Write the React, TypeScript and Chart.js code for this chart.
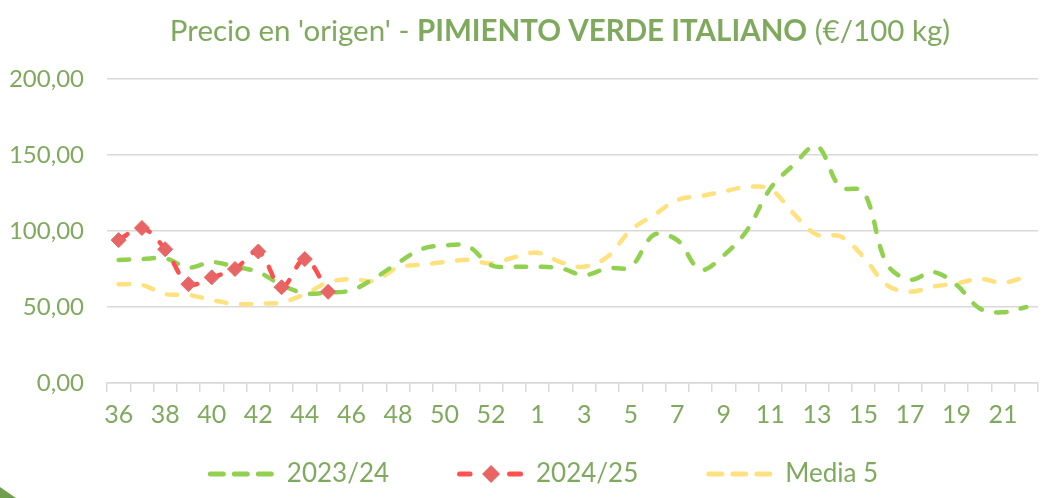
import React, { useEffect, useRef } from 'react';
import { Chart, registerables } from 'chart.js';

Chart.register(...registerables);

const weeks = [
  '36', '37', '38', '39', '40', '41', '42', '43', '44', '45', '46', '47', '48', '49', '50', '51', '52', '53',
  '1', '2', '3', '4', '5', '6', '7', '8', '9', '10', '11', '12', '13', '14', '15', '16', '17', '18', '19', '20', '21', '22',
];

const season2324 = [
  81, 81.5, 82, 76, 79.5, 76.5, 73, 64.5, 59, 59.5, 61, 69, 79, 88, 90.5, 90, 77.5, 76.5,
  76.5, 75.5, 71, 75.5, 76.5, 97.5, 94, 74.5, 84, 100.5, 128, 143.5, 156, 129, 126, 78.5, 68, 73, 64.5, 49, 46.5, 50,
];

const season2425 = [
  94, 102, 88, 65, 69.5, 75, 86.5, 63, 81.5, 60, null, null, null, null, null, null, null, null,
  null, null, null, null, null, null, null, null, null, null, null, null, null, null, null, null, null, null, null, null, null, null,
];

const media5 = [
  65, 64.5, 58.5, 58, 54.6, 52, 52.2, 53, 58.5, 66.2, 68.4, 67.3, 76, 77.8, 79.6, 81, 78.7, 82.7,
  85.7, 79.4, 76.5, 83, 100.6, 110.5, 120.4, 123, 126, 129, 127.5, 111.5, 97.5, 96.5, 83, 64.5, 60, 63.5, 65.5, 68.5, 66, 70,
];

const seriesNames = ['2023/24', '2024/25', 'Media 5'];
const yMin = 0;
const yMax = 200;
const yStep = 50;

const TEXT = '#7FAA5E';
const FONT = 'Lato, "Liberation Sans", sans-serif';
const GREEN = '#92D050';
const RED = '#FF5050';
const RED_MARK = '#E86565';
const YELLOW = '#FFE27F';
const GRID = '#D9D9D9';

const decorPlugin = {
  id: 'decor',
  afterDraw(chart: any) {
    const ctx = chart.ctx as CanvasRenderingContext2D;
    ctx.save();

    // Title (mixed weights)
    const parts = [
      { t: "Precio en 'origen' - ", b: false },
      { t: 'PIMIENTO VERDE ITALIANO', b: true },
      { t: ' (€/100 kg)', b: false },
    ];
    const tSize = 29.5;
    let total = 0;
    const widths: number[] = [];
    for (const p of parts) {
      ctx.font = `${p.b ? 'bold ' : ''}${tSize}px ${FONT}`;
      const w = ctx.measureText(p.t).width;
      widths.push(w);
      total += w;
    }
    let x = 560 - total / 2;
    ctx.fillStyle = TEXT;
    ctx.textBaseline = 'alphabetic';
    ctx.textAlign = 'left';
    parts.forEach((p, i) => {
      ctx.font = `${p.b ? 'bold ' : ''}${tSize}px ${FONT}`;
      ctx.fillText(p.t, x, 41);
      x += widths[i];
    });

    // Legend
    const lSize = 26;
    ctx.font = `${lSize}px ${FONT}`;
    const sampleW = 66;
    const gapST = 13;
    const gapItems = 68;
    const colors = [GREEN, RED, YELLOW];
    const tw = seriesNames.map((n) => ctx.measureText(n).width);
    const legW = tw.reduce((a, w) => a + sampleW + gapST + w, 0) + gapItems * (seriesNames.length - 1);
    let lx = 543 - legW / 2;
    const ly = 474;
    ctx.lineCap = 'round';
    ctx.lineWidth = 5;
    seriesNames.forEach((name, i) => {
      ctx.strokeStyle = colors[i];
      ctx.setLineDash([]);
      if (i === 1) {
        const segs = [[2.5, 13], [52.5, 63.5]];
        for (const [a, b] of segs) {
          ctx.beginPath();
          ctx.moveTo(lx + a, ly);
          ctx.lineTo(lx + b, ly);
          ctx.stroke();
        }
        const cx = lx + 34;
        ctx.fillStyle = RED_MARK;
        ctx.beginPath();
        ctx.moveTo(cx, ly - 9);
        ctx.lineTo(cx + 9, ly);
        ctx.lineTo(cx, ly + 9);
        ctx.lineTo(cx - 9, ly);
        ctx.closePath();
        ctx.fill();
      } else {
        for (let k = 0; k < 3; k++) {
          const a = lx + k * 24 + 2.5;
          ctx.beginPath();
          ctx.moveTo(a, ly);
          ctx.lineTo(a + 13, ly);
          ctx.stroke();
        }
      }
      ctx.fillStyle = TEXT;
      ctx.textBaseline = 'middle';
      ctx.font = `${lSize}px ${FONT}`;
      ctx.fillText(name, lx + sampleW + gapST, ly);
      lx += sampleW + gapST + tw[i] + gapItems;
    });

    // corner decoration
    ctx.fillStyle = '#6F9F4F';
    ctx.beginPath();
    ctx.moveTo(0, 487);
    ctx.lineTo(16, 498);
    ctx.lineTo(0, 498);
    ctx.closePath();
    ctx.fill();

    ctx.restore();
  },
};

export default function App() {
  const ref = useRef<HTMLCanvasElement | null>(null);

  useEffect(() => {
    document.body.style.margin = '0';
    const canvas = ref.current;
    if (!canvas) return;
    const lineBase = {
      fill: false,
      borderWidth: 4.5,
      borderDash: [10.5, 14.5],
      borderCapStyle: 'round' as const,
      borderJoinStyle: 'round' as const,
      tension: 0.35,
      pointRadius: 0,
      pointHoverRadius: 0,
      spanGaps: false,
    };
    const chart = new Chart(canvas, {
      type: 'line',
      data: {
        labels: weeks,
        datasets: [
          { ...lineBase, label: seriesNames[0], data: season2324, borderColor: GREEN, backgroundColor: GREEN, order: 1 },
          {
            ...lineBase,
            label: seriesNames[1],
            data: season2425,
            borderColor: RED,
            backgroundColor: RED_MARK,
            pointRadius: 7.5,
            pointStyle: 'rectRot',
            pointBackgroundColor: RED_MARK,
            pointBorderColor: RED_MARK,
            pointBorderWidth: 1,
            order: 0,
          },
          { ...lineBase, label: seriesNames[2], data: media5, borderColor: YELLOW, backgroundColor: YELLOW, order: 2 },
        ],
      },
      options: {
        responsive: false,
        animation: false,
        devicePixelRatio: 1,
        layout: { padding: { top: 79, right: 12, bottom: 60, left: 0 } },
        plugins: {
          legend: { display: false },
          title: { display: false },
          tooltip: { enabled: false },
        },
        scales: {
          x: {
            type: 'category',
            offset: true,
            grid: {
              display: true,
              drawOnChartArea: false,
              drawTicks: true,
              tickLength: 9,
              color: GRID,
              lineWidth: 1.5,
              offset: true,
            },
            border: { display: true, color: GRID, width: 1.5 },
            ticks: {
              autoSkip: false,
              maxRotation: 0,
              minRotation: 0,
              padding: 8,
              color: TEXT,
              font: { family: FONT, size: 25 },
              callback: function (this: any, value: any, index: number) {
                return index % 2 === 0 ? this.getLabelForValue(value) : '';
              },
            },
            afterFit(scale: any) {
              scale.height = 55;
            },
          },
          y: {
            min: yMin,
            max: yMax,
            grid: { color: GRID, lineWidth: 1.5, drawTicks: false },
            border: { display: false },
            ticks: {
              stepSize: yStep,
              padding: 23,
              color: TEXT,
              font: { family: FONT, size: 24 },
              callback: (v: any) => Number(v).toFixed(2).replace('.', ','),
            },
            afterFit(scale: any) {
              scale.width = 107;
            },
          },
        },
      },
      plugins: [decorPlugin],
    });
    return () => chart.destroy();
  }, []);

  return (
    <div style={{ width: 1050, height: 498, background: '#fff' }}>
      <canvas ref={ref} width={1050} height={498} style={{ display: 'block' }} />
    </div>
  );
}
